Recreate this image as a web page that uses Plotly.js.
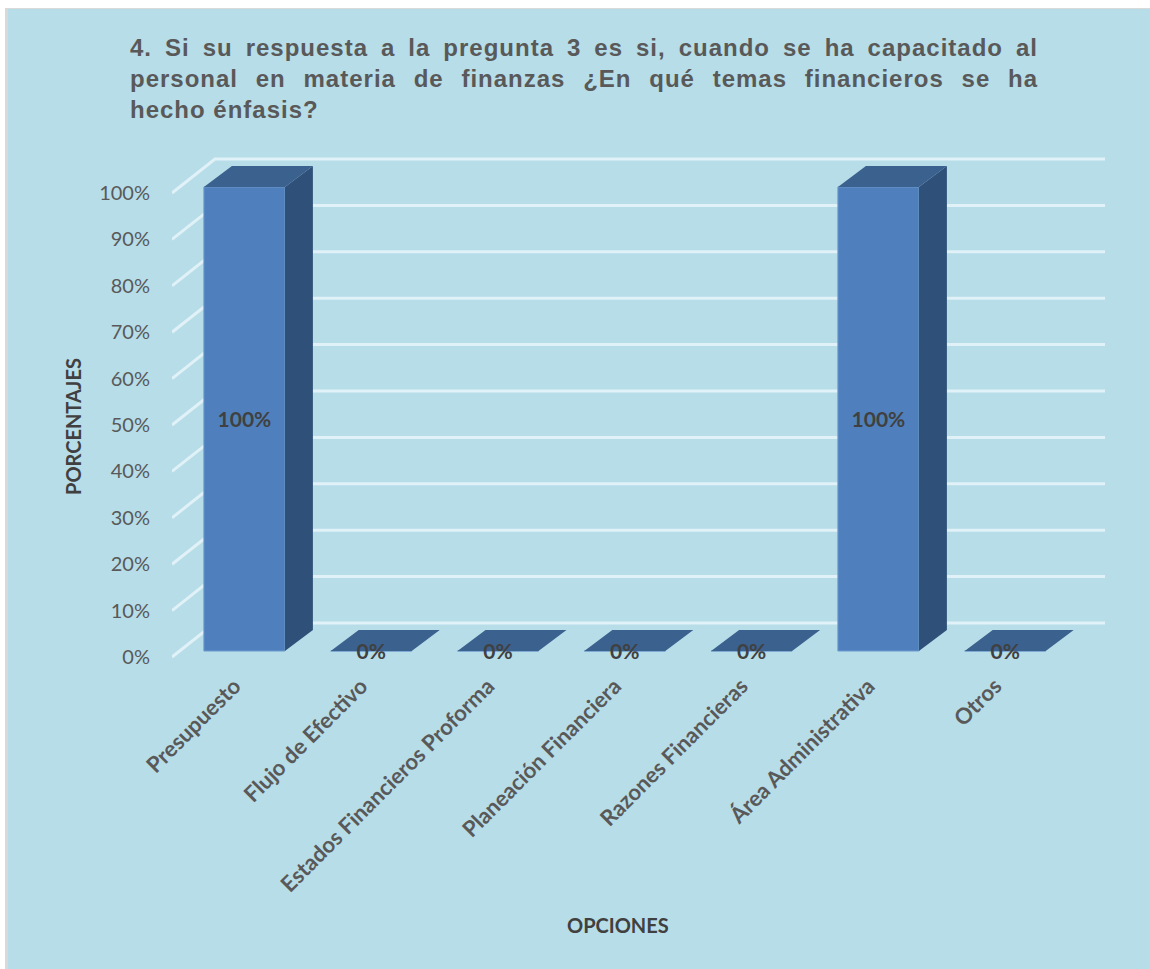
<!DOCTYPE html>
<html lang="es">
<head>
<meta charset="utf-8">
<title>Temas financieros</title>
<script src="https://cdn.plot.ly/plotly-3.0.1.min.js"></script>
<style>
  html, body { margin: 0; padding: 0; background: #ffffff; width: 1150px; height: 969px; overflow: hidden; }
  #frame { position: absolute; left: 5px; top: 8px; width: 1145px; height: 961px; background: #d9d9d9; }
  #chart { position: absolute; left: 8px; top: 9px; width: 1142px; height: 960px; }
</style>
</head>
<body>
<div id="frame"></div>
<div id="chart"></div>
<script>
// Survey answers, in percent
const categories = ["Presupuesto", "Flujo de Efectivo", "Estados Financieros Proforma",
  "Planeación Financiera", "Razones Financieras", "Área Administrativa", "Otros"];
const percentages = [100, 0, 0, 0, 0, 100, 0];
const percentTicks = [0, 10, 20, 30, 40, 50, 60, 70, 80, 90, 100];

const titleLines = [
  "4. Si su respuesta a la pregunta 3 es si, cuando se ha capacitado al",
  "personal en materia de finanzas ¿En qué temas financieros se ha",
  "hecho énfasis?"
];

// Oblique projection of the fake 3D box, expressed in axis units
const PX_PER_CAT = 126.8, PX_PER_PCT = 4.64;
const wallDx = 43 / PX_PER_CAT, wallDy = 34 / PX_PER_PCT;     // depth of the floor
const barDx = 28 / PX_PER_CAT, barDy = 21 / PX_PER_PCT;       // depth of each bar
const barInsetX = 9 / PX_PER_CAT, barInsetY = 6 / PX_PER_PCT; // bar front inside the floor
const barWidth = 81 / PX_PER_CAT;
const xMin = -0.5, xMax = categories.length - 0.5 + 45.4 / PX_PER_CAT;
const rangePad = 3 / PX_PER_PCT;                              // room for the full rule width
const yMin = -rangePad, yMax = 100 + wallDy + rangePad;

const xPositions = categories.map((_, i) => i + barInsetX);
const labelPositions = xPositions.map(x => x - 10 / PX_PER_CAT);

// Wall and floor rules: a short oblique stroke, then along the back wall
const gridShapes = percentTicks.map(v => ({
  type: "path", layer: "below", xref: "x", yref: "y",
  path: `M ${xMin} ${v} L ${xMin + wallDx} ${v + wallDy} L ${xMax} ${v + wallDy}`,
  line: { color: "#E0F1F7", width: 3 }
}));

// Side and top faces of every bar, built from its value
function facePolygon(corners) {
  const xs = [], ys = [];
  percentages.forEach((value, i) => {
    corners(xPositions[i] - barWidth / 2, xPositions[i] + barWidth / 2, barInsetY, barInsetY + value)
      .forEach(p => { xs.push(p[0]); ys.push(p[1]); });
    xs.push(null); ys.push(null);
  });
  return { xs, ys };
}
const sideFace = facePolygon((l, r, b, t) => [[r, b], [r + barDx, b + barDy], [r + barDx, t + barDy], [r, t], [r, b]]);
const topFace = facePolygon((l, r, b, t) => [[l, t], [l + barDx, t + barDy], [r + barDx, t + barDy], [r, t], [l, t]]);

const traces = [
  {
    type: "bar", x: xPositions, y: percentages, base: barInsetY, width: barWidth,
    marker: { color: "#4F80BD", line: { color: "#6C9ACB", width: 1 } },
    hoverinfo: "skip", showlegend: false
  },
  {
    type: "scatter", mode: "lines", x: sideFace.xs, y: sideFace.ys, fill: "toself",
    fillcolor: "#2F5179", line: { width: 0, color: "#2F5179" }, hoverinfo: "skip", showlegend: false
  },
  {
    type: "scatter", mode: "lines", x: topFace.xs, y: topFace.ys, fill: "toself",
    fillcolor: "#3B618F", line: { width: 0, color: "#3B618F" }, hoverinfo: "skip", showlegend: false
  },
  {
    type: "scatter", mode: "text", x: xPositions,
    y: percentages.map(v => barInsetY + v / 2 - 2.5 / PX_PER_PCT),
    text: percentages.map(v => v + "%"), textposition: "middle center", cliponaxis: false,
    textfont: { family: "Lato, sans-serif", size: 21, color: "#404040", weight: 700 },
    hoverinfo: "skip", showlegend: false
  }
];

const AXIS_X0 = 172, AXIS_W = 933, AXIS_Y0 = 660, AXIS_H = 504;
const paperX = px => (px - AXIS_X0) / AXIS_W;
const paperY = py => (AXIS_Y0 - py) / AXIS_H;

const layout = {
  width: 1142, height: 960,
  margin: { l: 164, r: 45, t: 147, b: 309, pad: 0 },
  paper_bgcolor: "#B7DDE8", plot_bgcolor: "rgba(0,0,0,0)",
  showlegend: false, bargap: 0,
  title: {
    text: titleLines.join("<br>"), xref: "container", x: (130 - 8) / 1142, xanchor: "left",
    yref: "container", y: 1 - (56 - 9) / 960, yanchor: "top",
    font: { family: "Liberation Sans, Arial, sans-serif", size: 24, color: "#595959", weight: 700 }
  },
  xaxis: {
    range: [xMin, xMax], tickmode: "array", tickvals: labelPositions, ticktext: categories,
    tickangle: -45, ticklen: 0, showgrid: false, zeroline: false, showline: false, ticklabelstandoff: 8,
    tickfont: { family: "Lato, sans-serif", size: 22, color: "#595959", weight: 700 }
  },
  yaxis: {
    range: [yMin, yMax], tickmode: "array", tickvals: percentTicks,
    ticktext: percentTicks.map(v => v + "%"), ticklen: 0, showgrid: false, zeroline: false,
    showline: false, ticklabelstandoff: 21,
    tickfont: { family: "Lato, sans-serif", size: 20, color: "#595959" }
  },
  shapes: gridShapes,
  annotations: [
    {
      text: "PORCENTAJES", xref: "paper", yref: "paper", x: paperX(73), y: paperY(427), textangle: -90,
      showarrow: false, xanchor: "center", yanchor: "middle",
      font: { family: "Lato, sans-serif", size: 20, color: "#404040", weight: 700 }
    },
    {
      text: "OPCIONES", xref: "paper", yref: "paper", x: paperX(618), y: paperY(925),
      showarrow: false, xanchor: "center", yanchor: "middle",
      font: { family: "Lato, sans-serif", size: 20, color: "#404040", weight: 700 }
    }
  ]
};

Plotly.newPlot("chart", traces, layout, { displayModeBar: false, staticPlot: true }).then(() => {
  // Justify the first two heading lines to the text block width
  const JUSTIFIED_WIDTH = 908;
  const lines = document.querySelectorAll("#chart .gtitle tspan.line");
  lines.forEach((line, i) => {
    line.style.letterSpacing = "1px";
    if (i < 2) {
      const spaces = (line.textContent.match(/ /g) || []).length;
      const extra = (JUSTIFIED_WIDTH - line.getComputedTextLength()) / spaces;
      line.style.wordSpacing = extra + "px";
    }
  });
});
</script>
</body>
</html>
